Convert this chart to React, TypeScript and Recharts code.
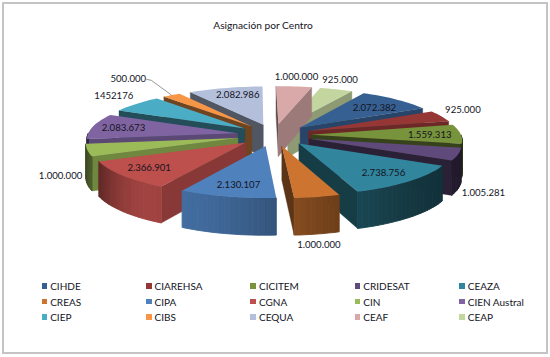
import { PieChart, Pie, Legend } from "recharts";

const centers = [
  "CIHDE", "CIAREHSA", "CICITEM", "CRIDESAT", "CEAZA",
  "CREAS", "CIPA", "CGNA", "CIN", "CIEN Austral",
  "CIEP", "CIBS", "CEQUA", "CEAF", "CEAP",
];
const amounts = [
  2072382, 925000, 1559313, 1005281, 2738756,
  1000000, 2130107, 2366901, 1000000, 2083673,
  1452176, 500000, 2082986, 1000000, 925000,
];
const amountLabels = [
  "2.072.382", "925.000", "1.559.313", "1.005.281", "2.738.756",
  "1.000.000", "2.130.107", "2.366.901", "1.000.000", "2.083.673",
  "1452176", "500.000", "2.082.986", "1.000.000", "925.000",
];
const colors = [
  "#376092", "#953735", "#77933C", "#604A7B", "#31859C",
  "#CC7430", "#4F81BD", "#BD4F4C", "#9BBB59", "#8064A2",
  "#4BACC6", "#F79646", "#B3BFDB", "#D8A9A8", "#C4D6A0",
];
// label shift from the projected anchor of each slice
const labelNudge = [
  [13, -2], [71, -12], [26, 0], [83, 44], [18, 6],
  [16, 68], [-4, 8], [-22, 5], [-85, 30], [-24, -1],
  [-62, -17], [-72, -28], [-1, -6], [8, -23], [21, -22],
];

const tableData = centers.map((name, i) => ({ name, value: amounts[i], fill: colors[i] }));
const reversedData = [...tableData].reverse();

const RIGHT_COUNT = 6; // first slices, drawn last going clockwise
const FIRST_ANGLE = 60.5;
const CX = 274;
const CY = 135;
const RADIUS = 150;
const EXPLODE = 37;
const TILT = 0.3;
const PERSPECTIVE = 0.00069;
const DEPTH = 33;
const FONT = "Lato, sans-serif";
const INK = "#14141e";

const rad = (d: number) => (d * Math.PI) / 180;

// world point on the tilted plane -> screen
function project(X: number, Y: number, z = 0) {
  const s = 1 + PERSPECTIVE * Y;
  return [CX + X * s, CY + Y * TILT * s + z * s];
}

function shade(hex: string, f: number) {
  const n = parseInt(hex.slice(1), 16);
  const c = [(n >> 16) & 255, (n >> 8) & 255, n & 255].map((v) => Math.round(v * f));
  return `rgb(${c[0]},${c[1]},${c[2]})`;
}

function wallFactor(a: number) {
  const d = a - 215;
  const w = d < 0 ? 55 : 30;
  return 0.35 + 0.5 * Math.exp(-(d * d) / (w * w));
}

const toPath = (pts: number[][]) =>
  "M" + pts.map((p) => `${p[0].toFixed(1)} ${p[1].toFixed(1)}`).join("L") + "Z";

function Slice3D({ startAngle, endAngle, fill, outerRadius }: any) {
  // clockwise from north
  const a1 = 90 - Math.max(startAngle, endAngle);
  const a2 = a1 + Math.abs(endAngle - startAngle);
  const mid = (a1 + a2) / 2;
  const ox = EXPLODE * Math.sin(rad(mid));
  const oy = -EXPLODE * Math.cos(rad(mid));
  const rim = (a: number, z = 0) =>
    project(ox + outerRadius * Math.sin(rad(a)), oy - outerRadius * Math.cos(rad(a)), z);
  const apex = (z = 0) => project(ox, oy, z);

  const steps = Math.max(2, Math.ceil((a2 - a1) / 2));
  const angles = Array.from({ length: steps + 1 }, (_, i) => a1 + ((a2 - a1) * i) / steps);

  const radialWall = (a: number, normal: number, key: string) => {
    if (Math.cos(rad(normal)) >= 0) return null;
    const n = ((normal % 360) + 360) % 360;
    const c = shade(fill, n < 180 ? 0.72 : 0.45);
    const d = toPath([apex(), rim(a), rim(a, DEPTH), apex(DEPTH)]);
    return <path key={key} d={d} fill={c} stroke={c} strokeWidth={0.4} />;
  };

  const quads = [];
  for (let i = 0; i < steps; i++) {
    const a = angles[i];
    const b = angles[i + 1];
    const m = (a + b) / 2;
    if (Math.cos(rad(m)) >= 0) continue;
    const nm = ((m % 360) + 360) % 360;
    const c = shade(fill, wallFactor(nm));
    quads.push(
      <path key={i} d={toPath([rim(a), rim(b), rim(b, DEPTH), rim(a, DEPTH)])} fill={c} stroke={c} strokeWidth={0.9} />
    );
  }

  return (
    <g>
      {radialWall(a1, a1 - 90, "w1")}
      {radialWall(a2, a2 + 90, "w2")}
      {quads}
      <path d={toPath([apex(), ...angles.map((a) => rim(a))])} fill={fill} />
    </g>
  );
}

function renderLabel({ name, midAngle }: any) {
  const i = centers.indexOf(name);
  const m = 90 - midAngle;
  const [ax, ay] = project(130 * Math.sin(rad(m)), -130 * Math.cos(rad(m)));
  const x = ax + labelNudge[i][0];
  const y = ay + labelNudge[i][1];
  let leader = null;
  if (name === "CIBS") {
    const tip = project(187 * Math.sin(rad(m)), -187 * Math.cos(rad(m)));
    leader = (
      <polyline
        points={`${x + 18},${y + 1} ${x + 23},${y + 2} ${tip[0]},${tip[1]}`}
        fill="none"
        stroke="#7f7f7f"
        strokeWidth={0.8}
      />
    );
  }
  return (
    <g key={name}>
      {leader}
      <text x={x} y={y} textAnchor="middle" dominantBaseline="central" fontFamily={FONT} fontSize={9.6} fill={INK}>
        {amountLabels[i]}
      </text>
    </g>
  );
}

function GridLegend({ payload }: any) {
  const items = centers.map((name) => (payload || []).find((p: any) => p.value === name)).filter(Boolean);
  return (
    <div
      style={{
        display: "grid",
        gridTemplateColumns: "repeat(5, 104.4px)",
        gridAutoRows: "15.7px",
        marginLeft: 41.7,
        fontFamily: FONT,
        fontSize: 10,
        color: INK,
      }}
    >
      {items.map((p: any) => (
        <div key={p.value} style={{ display: "flex", alignItems: "center" }}>
          <span style={{ width: 5.5, height: 5.5, background: p.color, marginRight: 3 }} />
          {p.value}
        </div>
      ))}
    </div>
  );
}

export default function App() {
  return (
    <div style={{ position: "absolute", left: 0, top: 0, width: 550, height: 357, background: "#fff" }}>
      <div
        style={{
          position: "absolute",
          left: 2,
          top: 2,
          width: 546,
          height: 352,
          boxSizing: "border-box",
          border: "2px solid #c4c4c4",
        }}
      />
      <div
        style={{
          position: "absolute",
          left: 0,
          top: 19,
          width: 526,
          textAlign: "center",
          fontFamily: FONT,
          fontSize: 10.2,
          color: INK,
        }}
      >
        Asignación por Centro
      </div>
      <div style={{ position: "absolute", left: 0, top: 0 }}>
        <PieChart width={550} height={357} margin={{ top: 0, right: 0, bottom: 0, left: 0 }}>
          <Pie
            data={reversedData}
            dataKey="value"
            nameKey="name"
            cx={CX}
            cy={CY}
            outerRadius={RADIUS}
            startAngle={FIRST_ANGLE - 360}
            endAngle={FIRST_ANGLE}
            stroke="none"
            legendType="none"
            isAnimationActive={false}
            shape={(props: any) =>
              centers.indexOf(props.name) >= RIGHT_COUNT ? <Slice3D {...props} /> : <g />
            }
          />
          <Pie
            data={tableData}
            dataKey="value"
            nameKey="name"
            cx={CX}
            cy={CY}
            outerRadius={RADIUS}
            startAngle={FIRST_ANGLE}
            endAngle={FIRST_ANGLE - 360}
            stroke="none"
            isAnimationActive={false}
            label={renderLabel}
            labelLine={false}
            shape={(props: any) =>
              centers.indexOf(props.name) < RIGHT_COUNT ? <Slice3D {...props} /> : <g />
            }
          />
          <Legend
            content={<GridLegend />}
            wrapperStyle={{ left: 0, top: 278, width: 550 }}
          />
        </PieChart>
      </div>
    </div>
  );
}
